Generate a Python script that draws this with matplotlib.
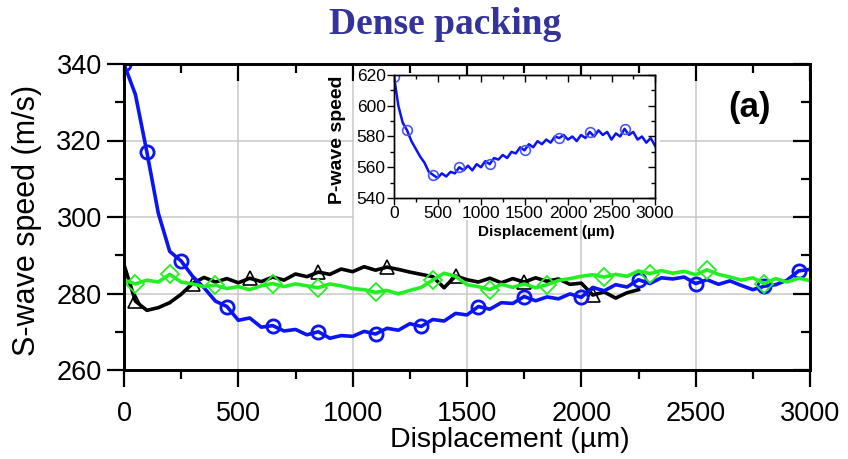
import numpy as np
import matplotlib
matplotlib.use("Agg")
import matplotlib.pyplot as plt
from matplotlib.ticker import MultipleLocator, NullFormatter
from matplotlib.patches import Rectangle

# ---------------- data ----------------
STEP = 50
x_full = np.arange(0, 3001, STEP)          # 0 .. 3000 µm
x_black = np.arange(0, 2251, STEP)         # 0 .. 2250 µm

s_blue = [340, 332, 317, 301, 291, 288.5, 284.5, 281.5, 278, 276.6, 273, 273.6,
          271.2, 271.6, 270.2, 270.6, 269.2, 270, 268.3, 269, 268.8, 270.1, 269.4,
          270.9, 270.4, 272.1, 271.4, 273.2, 272.8, 274.8, 274.4, 276.6, 275.9,
          277.6, 277.4, 279.2, 278.1, 279.1, 278.6, 279.9, 279.0, 281.6, 280.7,
          282.3, 281.7, 283.6, 282.6, 284.1, 283.8, 284.3, 282.6, 283.6, 282.4,
          283.3, 282.1, 281.0, 281.9, 282.3, 283.5, 285.9, 286.3]

s_black = [287.5, 278.0, 275.6, 276.3, 277.6, 279.8, 282.6, 284.2, 283.0, 283.9,
           282.8, 284.0, 283.1, 284.3, 283.5, 285.1, 284.4, 285.6, 285.0, 286.4,
           285.7, 287.0, 286.1, 286.9, 286.3, 285.6, 285.0, 284.4, 281.5, 284.6,
           283.6, 283.0, 284.0, 282.8, 283.9, 283.0, 284.1, 283.2, 283.8, 282.4,
           282.7, 279.6, 280.4, 278.8, 280.2, 281.0]

s_green = [283.5, 282.5, 283.5, 283.0, 285.0, 283.0, 282.5, 281.8, 282.2, 281.3,
           281.8, 281.0, 282.0, 282.6, 281.8, 282.5, 282.0, 281.5, 282.5, 282.0,
           281.3, 281.0, 280.3, 280.8, 279.9, 280.8, 281.6, 283.5, 285.3, 284.5,
           282.3, 281.8, 281.0, 282.4, 281.6, 282.5, 281.5, 282.3, 283.4, 283.9,
           284.5, 284.9, 284.3, 285.0, 284.5, 285.9, 285.2, 286.0, 285.3, 285.8,
           284.9, 286.2, 285.0, 284.3, 283.5, 284.1, 282.6, 283.9, 283.0, 284.0,
           283.4]

p_blue = [619, 600, 589, 584, 577, 572, 567, 563, 557, 555, 553, 556, 554, 557,
          556, 560, 558, 561, 558, 562, 560, 564, 562, 566, 565, 568, 566, 570,
          569, 573, 571, 575, 573, 577, 575, 578, 576, 580, 579, 581, 578, 580,
          577, 581, 579, 583, 580, 584, 581, 583, 578, 582, 580, 585, 581, 583,
          578, 580, 576, 579, 574]

marks_blue = [17, 106, 258, 450, 652, 871, 1089, 1308, 1527, 1745, 1980, 2243,
              2510, 2781, 2970]
marks_black = [34, 300, 573, 870, 1163, 1469, 1766, 2060]
marks_green = [26, 201, 415, 631, 857, 1090, 1345, 1586, 1832, 2081, 2314,
               2562, 2795]
marks_inset = [23, 126, 455, 759, 1109, 1506, 1889, 2272, 2655]

x_ticks = [0, 500, 1000, 1500, 2000, 2500, 3000]
y_ticks = [260, 280, 300, 320, 340]
inset_yticks = [540, 560, 580, 600, 620]

title = "Dense packing"
xlabel = "Displacement (µm)"
ylabel = "S-wave speed (m/s)"
inset_ylabel = "P-wave speed"
panel = "(a)"

BLUE = "#0a14f5"
GREEN = "#22f022"
BLACK = "#000000"
TITLE_C = "#333399"


def idx_of(xs, marks):
    xs = np.asarray(xs)
    return [int(np.argmin(np.abs(xs - m))) for m in marks]


plt.rcParams['font.family'] = ['Liberation Sans', 'DejaVu Sans']

W, H = 848, 459
fig = plt.figure(figsize=(W / 100, H / 100), dpi=100)


def setup(a, xlim, ylim, xt, yt, xminor, yminor, lw, tw, maj, mnr):
    a.set_xlim(*xlim)
    a.set_ylim(*ylim)
    a.set_xticks(xt)
    a.set_yticks(yt)
    a.xaxis.set_minor_locator(MultipleLocator(xminor))
    a.yaxis.set_minor_locator(MultipleLocator(yminor))
    for s in a.spines.values():
        s.set_linewidth(lw)
    a.tick_params(which='both', width=tw)
    a.tick_params(which='major', length=maj)
    a.tick_params(which='minor', length=mnr)


# main axes
L, R, T, B = 124, 810, 64, 370
rect_main = [L / W, 1 - B / H, (R - L) / W, (B - T) / H]
ax = fig.add_axes(rect_main)
ax.set_zorder(0)
setup(ax, (0, 3000), (260, 340), x_ticks, y_ticks, 250, 10, 1.9, 1.6, 12, 6.5)
ax.grid(True, which='major', color='#c8c8c8', lw=1.1)
ax.set_axisbelow(True)
ax.tick_params(which='both', direction='out', top=False, right=False,
               labelsize=19.5)
ax.tick_params(axis='x', which='major', pad=10)
ax.tick_params(axis='y', which='major', pad=4)

# overlay for inward top/right ticks
ov = fig.add_axes(rect_main, facecolor='none')
ov.set_zorder(0.5)
setup(ov, (0, 3000), (260, 340), x_ticks, y_ticks, 250, 10, 1.9, 1.6, 12, 6.5)
ov.tick_params(which='both', direction='in', top=True, right=True,
               bottom=False, left=False, labelbottom=False, labelleft=False)

ax.plot(x_black, s_black, color=BLACK, lw=2.6, marker='^', ms=10, mfc='none',
        mec=BLACK, mew=1.2, markevery=idx_of(x_black, marks_black), zorder=2)
ax.plot(x_full, s_blue, color=BLUE, lw=2.6, marker='o', ms=9.5, mfc='none',
        mec=BLUE, mew=2.0, markevery=idx_of(x_full, marks_blue), zorder=2.1)
ax.plot(x_full, s_green, color=GREEN, lw=2.6, marker='D', ms=9, mfc='none',
        mec=GREEN, mew=1.3, markevery=idx_of(x_full, marks_green), zorder=2.2)

fig.text(750 / W, 1 - 108 / H, panel, ha='center', va='center',
         fontsize=25, fontweight='bold')

fig.text(510 / W, 1 - 447 / H, xlabel, ha='center', va='baseline', fontsize=20.5)
fig.text(27 / W, 1 - 220 / H, ylabel, ha='center', va='center', fontsize=22,
         rotation=90)
fig.text(445 / W, 1 - 25 / H, title, ha='center', va='center', fontsize=27,
         fontweight='bold', family=['Liberation Serif', 'DejaVu Serif'],
         color=TITLE_C)

# white backing behind inset
fig.add_artist(Rectangle((354 / W, 1 - 220 / H), (660 - 354) / W, (220 - 75) / H,
                         transform=fig.transFigure, facecolor='white',
                         edgecolor='none', zorder=1))

# inset
iL, iR, iT, iB = 394, 655, 75, 198
rect_ins = [iL / W, 1 - iB / H, (iR - iL) / W, (iB - iT) / H]
ins = fig.add_axes(rect_ins)
ins.set_zorder(2)
setup(ins, (0, 3000), (540, 620), x_ticks, inset_yticks, 250, 10, 1.0, 1.0, 5, 3)
ins.tick_params(which='both', direction='out', top=False, right=False,
                labelsize=12.5, pad=1)
ins_ov = fig.add_axes(rect_ins, facecolor='none')
ins_ov.set_zorder(2.5)
setup(ins_ov, (0, 3000), (540, 620), x_ticks, inset_yticks, 250, 10, 1.0, 1.0, 5, 3)
ins_ov.tick_params(which='both', direction='in', top=True, right=True,
                   bottom=False, left=False, labelbottom=False, labelleft=False)

ins.plot(x_full, p_blue, color=BLUE, lw=1.8, marker='o', ms=7, mfc='none',
         mec='#4a55ff', mew=1.2, markevery=idx_of(x_full, marks_inset))

fig.text(546 / W, 1 - 236 / H, xlabel, ha='center', va='baseline', fontsize=11,
         fontweight='bold', zorder=3)
fig.text(338 / W, 1 - 140 / H, inset_ylabel, ha='center', va='center',
         fontsize=14, fontweight='bold', rotation=90, zorder=3)

fig.savefig("out.png", dpi=100)
